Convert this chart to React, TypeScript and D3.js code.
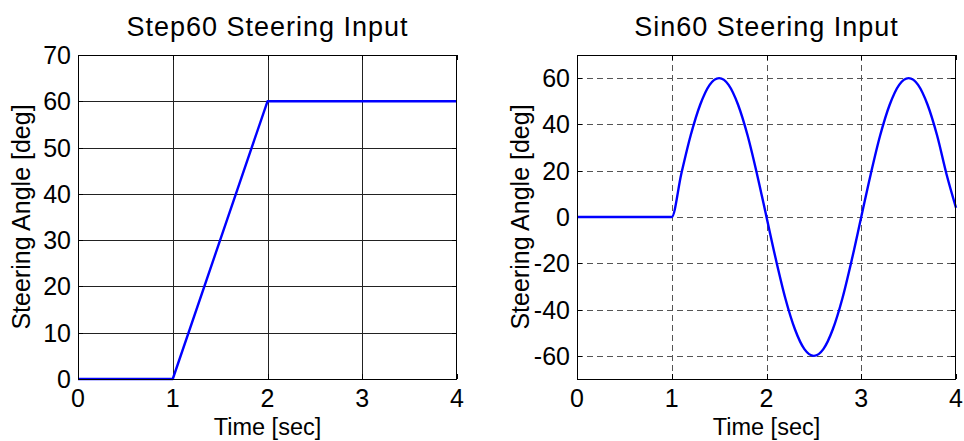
import React from "react";
import * as d3 from "d3";

const W = 964;
const H = 441;

const stepT = [0, 1, 2, 4];
const stepV = [0, 0, 60, 60];

const sinT = [0, 0.5, 1.0, 1.1, 1.2, 1.3, 1.4, 1.5, 1.6, 1.7, 1.8, 1.9, 2.0, 2.1, 2.2, 2.3, 2.4, 2.5, 2.6, 2.7, 2.8, 2.9, 3.0, 3.1, 3.2, 3.3, 3.4, 3.5, 3.6, 3.7, 3.8, 3.9, 4.0];
const sinV = [0, 0, 0, 18.5, 35.3, 48.5, 57.1, 60, 57.1, 48.5, 35.3, 18.5, 0, -18.5, -35.3, -48.5, -57.1, -60, -57.1, -48.5, -35.3, -18.5, 0, 18.5, 35.3, 48.5, 57.1, 60, 57.1, 48.5, 35.3, 18.5, 4];

const xTicks = [0, 1, 2, 3, 4];
const stepYTicks = [0, 10, 20, 30, 40, 50, 60, 70];
const sinYTicks = [-60, -40, -20, 0, 20, 40, 60];

const titles = ["Step60 Steering Input", "Sin60 Steering Input"];
const xLabel = "Time [sec]";
const yLabel = "Steering Angle [deg]";

const FONT = "Arial, 'Liberation Sans', Helvetica, sans-serif";

type PanelProps = {
  left: number;
  right: number;
  top: number;
  bottom: number;
  yDomain: [number, number];
  yTicks: number[];
  t: number[];
  v: number[];
  title: string;
  dashed: boolean;
  curved: boolean;
  yLabelX: number;
};

function Panel(p: PanelProps) {
  const x = d3.scaleLinear().domain([0, 4]).range([p.left, p.right]);
  const y = d3.scaleLinear().domain(p.yDomain).range([p.bottom, p.top]);
  const pts: [number, number][] = p.t.map((tt, i) => [tt, p.v[i]]);
  const line = d3
    .line<[number, number]>()
    .x((d) => x(d[0]))
    .y((d) => y(d[1]))
    .curve(p.curved ? d3.curveMonotoneX : d3.curveLinear);
  const gridStroke = p.dashed ? "#555" : "#222";
  const dash = p.dashed ? "6,4" : undefined;
  const tl = 5;
  const cx = (p.left + p.right) / 2;
  const cy = (p.top + p.bottom) / 2;
  return (
    <g>
      {xTicks.slice(1, -1).map((tk) => (
        <line key={"gx" + tk} x1={Math.round(x(tk)) + 0.5} x2={Math.round(x(tk)) + 0.5} y1={p.top} y2={p.bottom} stroke={gridStroke} strokeWidth={1} strokeDasharray={dash} />
      ))}
      {p.yTicks.filter((tk) => y(tk) > p.top + 1 && y(tk) < p.bottom - 1).map((tk) => (
        <line key={"gy" + tk} x1={p.left} x2={p.right} y1={Math.round(y(tk)) + 0.5} y2={Math.round(y(tk)) + 0.5} stroke={gridStroke} strokeWidth={1} strokeDasharray={dash} />
      ))}
      {xTicks.map((tk) => (
        <g key={"tx" + tk}>
          <line x1={Math.round(x(tk)) + 0.5} x2={Math.round(x(tk)) + 0.5} y1={p.bottom} y2={p.bottom - tl} stroke="#000" />
          <line x1={Math.round(x(tk)) + 0.5} x2={Math.round(x(tk)) + 0.5} y1={p.top} y2={p.top + tl} stroke="#000" />
          <text x={x(tk)} y={p.bottom + 28} textAnchor="middle" fontSize={25} fontFamily={FONT} fill="#000">{tk}</text>
        </g>
      ))}
      {p.yTicks.map((tk) => (
        <g key={"ty" + tk}>
          <line x1={p.left} x2={p.left + tl} y1={Math.round(y(tk)) + 0.5} y2={Math.round(y(tk)) + 0.5} stroke="#000" />
          <line x1={p.right} x2={p.right - tl} y1={Math.round(y(tk)) + 0.5} y2={Math.round(y(tk)) + 0.5} stroke="#000" />
          <text x={p.left - 7} y={y(tk)} dy="0.36em" textAnchor="end" fontSize={25} fontFamily={FONT} fill="#000">{tk}</text>
        </g>
      ))}
      <path d={line(pts) || ""} fill="none" stroke="#0000ff" strokeWidth={2.4} strokeLinejoin="round" />
      <rect x={p.left + 0.5} y={p.top + 0.5} width={p.right - p.left - 1} height={p.bottom - p.top} fill="none" stroke="#000" strokeWidth={1} />
      <text x={cx} y={36} textAnchor="middle" fontSize={27} fontFamily={FONT} fill="#000" letterSpacing={1}>{p.title}</text>
      <text x={cx} y={435} textAnchor="middle" fontSize={23.5} fontFamily={FONT} fill="#000">{xLabel}</text>
      <text transform={`translate(${p.yLabelX},${cy}) rotate(-90)`} textAnchor="middle" fontSize={25} fontFamily={FONT} fill="#000">{yLabel}</text>
    </g>
  );
}

export default function App() {
  return (
    <svg width={W} height={H} style={{ position: "absolute", left: 0, top: 0, background: "#fff" }}>
      <rect width={W} height={H} fill="#fff" />
      <Panel left={78} right={457} top={55} bottom={379} yDomain={[0, 70]} yTicks={stepYTicks} t={stepT} v={stepV} title={titles[0]} dashed={false} curved={false} yLabelX={30} />
      <Panel left={577} right={956} top={55} bottom={379} yDomain={[-70, 70]} yTicks={sinYTicks} t={sinT} v={sinV} title={titles[1]} dashed={true} curved={true} yLabelX={529} />
    </svg>
  );
}
